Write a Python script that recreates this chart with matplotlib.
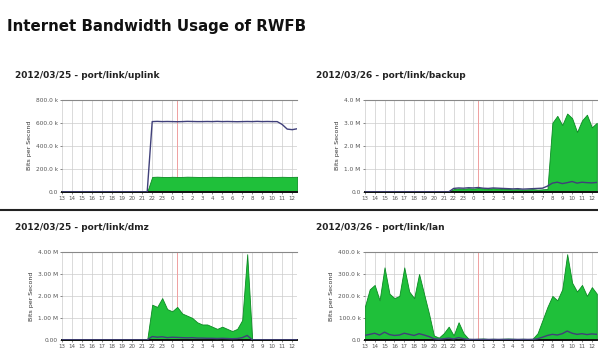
import matplotlib
matplotlib.use("Agg")
import matplotlib.pyplot as plt
import numpy as np

# Sample hours (half-hour steps) and the hour labels shown under each graph
hour_labels = ["13", "14", "15", "16", "17", "18", "19", "20", "21", "22", "23", "0",
               "1", "2", "3", "4", "5", "6", "7", "8", "9", "10", "11", "12"]

titles = ["2012/03/25 - port/link/uplink",
          "2012/03/26 - port/link/backup",
          "2012/03/25 - port/link/dmz",
          "2012/03/26 - port/link/lan"]

# Incoming (green area) and outgoing (blue line) traffic, 48 samples per graph
in_1 = [0] * 18 + [130, 132, 130, 129, 131, 130, 130, 132, 131, 130, 129, 130, 131, 130, 130,
                   131, 130, 129, 130, 131, 130, 130, 131, 130, 129, 130, 131, 130, 130, 131]
out_1 = [0] * 18 + [610, 612, 610, 611, 610, 609, 610, 612, 611, 610, 610, 611, 610, 612, 610,
                    611, 610, 609, 610, 611, 610, 612, 610, 611, 610, 610, 585, 545, 540, 548]

in_2 = [0] * 18 + [120, 150, 130, 160, 140, 170, 150, 130, 160, 140, 120, 130, 110, 120, 100,
                   110, 120, 100, 110, 130] + [3000, 3300, 2900, 3400, 3200, 2600, 3100, 3350,
                                               2800, 3000]
out_2 = [0] * 18 + [150, 170, 160, 180, 170, 190, 160, 150, 170, 160, 150, 140, 130, 140, 120,
                    130, 140, 150, 160, 250, 380, 420, 360, 400, 450, 380, 420, 400, 390, 410]

in_3 = [0] * 18 + [1.6, 1.5, 1.9, 1.4, 1.3, 1.5, 1.2, 1.1, 1.0, 0.8, 0.7, 0.7, 0.6, 0.5, 0.6,
                   0.5, 0.4, 0.5, 0.9, 3.9] + [0] * 10
out_3 = [0] * 18 + [0.15, 0.12, 0.14, 0.1, 0.12, 0.11, 0.1, 0.09, 0.1, 0.08, 0.08, 0.07, 0.07,
                    0.06, 0.07, 0.06, 0.05, 0.06, 0.1, 0.2] + [0] * 10

in_4 = [150, 230, 250, 180, 330, 210, 190, 200, 330, 220, 190, 300, 210, 120, 20, 10, 30, 60,
        20, 80, 30, 5, 4, 5, 6, 4, 5, 4, 5, 6, 5, 4, 5, 4, 5, 30, 90,
        150, 200, 180, 230, 390, 260, 220, 250, 200, 240, 210]
out_4 = [20, 25, 30, 22, 35, 24, 20, 22, 30, 25, 20, 28, 22, 15, 5, 3, 5, 8,
         4, 10, 5, 2, 2, 2, 2, 2, 2, 2, 2, 2, 2, 2, 2, 2, 2, 5, 12,
         20, 25, 22, 28, 40, 30, 25, 28, 24, 27, 25]

y_ticks = [[0, 200, 400, 600, 800], [0, 1000, 2000, 3000, 4000],
           [0, 1, 2, 3, 4], [0, 100, 200, 300, 400]]
y_tick_labels = [["0.0", "200.0 k", "400.0 k", "600.0 k", "800.0 k"],
                 ["0.0", "1.0 M", "2.0 M", "3.0 M", "4.0 M"],
                 ["0.00", "1.00 M", "2.00 M", "3.00 M", "4.00 M"],
                 ["0.0", "100.0 k", "200.0 k", "300.0 k", "400.0 k"]]

ins = [in_1, in_2, in_3, in_4]
outs = [out_1, out_2, out_3, out_4]

GREEN = "#1fc03a"
GREEN_EDGE = "#0a8a22"
BLUE = "#40407a"

fig = plt.figure(figsize=(5.98, 3.6), dpi=100)
fig.patch.set_facecolor("white")

fig.text(0.012, 0.925, "Internet Bandwidth Usage of RWFB", fontsize=10.8,
         fontweight="bold", family="DejaVu Sans",
         color="#111111", va="center", ha="left")

# axes rectangles: left, bottom, width, height
rects = [[0.104, 0.467, 0.393, 0.256],
         [0.610, 0.467, 0.388, 0.256],
         [0.104, 0.056, 0.393, 0.244],
         [0.610, 0.056, 0.388, 0.244]]
header_pos = [(0.025, 0.79), (0.528, 0.79), (0.025, 0.367), (0.528, 0.367)]

x = np.arange(48)

for i in range(4):
    ax = fig.add_axes(rects[i])
    ax.set_facecolor("white")
    top = y_ticks[i][-1]
    ax.fill_between(x, 0, ins[i], color=GREEN, linewidth=0.6, edgecolor=GREEN_EDGE, zorder=2)
    ax.plot(x, outs[i], color=BLUE, linewidth=1.0, zorder=3)
    ax.set_xlim(0, 47)
    ax.set_ylim(0, top * 1.0)
    ax.set_yticks(y_ticks[i])
    ax.set_yticklabels(y_tick_labels[i], fontsize=4.2, color="#444444")
    ax.set_xticks(x[::2])
    ax.set_xticklabels(hour_labels, fontsize=4, color="#444444")
    ax.tick_params(length=1.5, width=0.5, pad=1.5, colors="#555555")
    ax.grid(True, color="#cccccc", linewidth=0.5, linestyle="-")
    ax.set_axisbelow(True)
    # midnight marker
    ax.axvline(23, color="#f0a0a0", linewidth=0.7, zorder=1)
    for s in ["left", "right"]:
        ax.spines[s].set_visible(False)
    ax.spines["top"].set_color("#888888")
    ax.spines["top"].set_linewidth(0.8)
    ax.spines["bottom"].set_color("#111111")
    ax.spines["bottom"].set_linewidth(1.4)
    ax.set_ylabel("Bits per Second", fontsize=4.5, color="#333333", labelpad=3)
    fig.text(header_pos[i][0], header_pos[i][1], titles[i], fontsize=6.5,
             fontweight="bold", color="#222222", va="center", ha="left")

# separator between the two rows of graphs
fig.add_artist(plt.Line2D([0, 1], [0.418, 0.418], color="#222222", linewidth=1.5))

fig.savefig("out.png", dpi=100, facecolor="white")
